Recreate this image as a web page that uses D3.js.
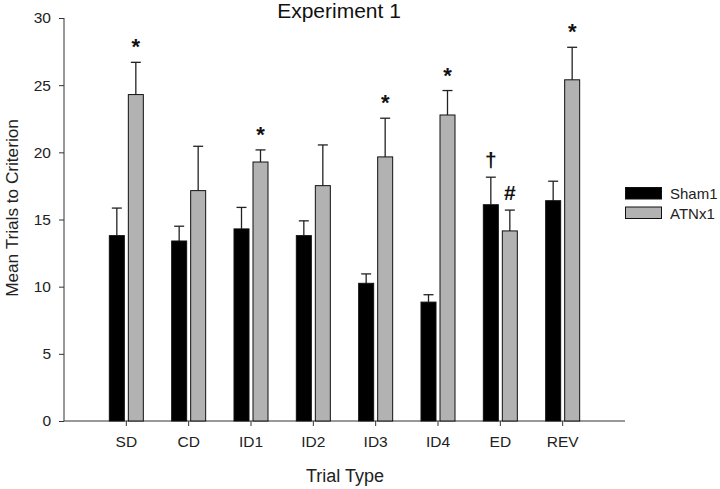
<!DOCTYPE html>
<html><head><meta charset="utf-8">
<script src="https://cdn.jsdelivr.net/npm/d3@7"></script>
<style>body{margin:0;background:#fff;} text{font-family:Arial,"Liberation Sans",sans-serif;}</style>
</head><body>
<svg id="c" width="720" height="489"></svg>
<script>
const categories = ["SD","CD","ID1","ID2","ID3","ID4","ED","REV"];
const seriesNames = ["Sham1","ATNx1"];
const shamValues = [13.8,13.4,14.3,13.8,10.25,8.85,16.1,16.4];
const shamErrors = [2.05,1.1,1.6,1.1,0.7,0.55,2.05,1.45];
const atnxValues = [24.3,17.15,19.28,17.52,19.66,22.78,14.15,25.4];
const atnxErrors = [2.4,3.3,0.9,3.03,2.88,1.82,1.55,2.42];
const shamMarks = ["","","","","","","†",""];
const atnxMarks = ["*","","*","","*","*","#","*"];
const yTicks = [0,5,10,15,20,25,30];
const colors = ["#000000","#b2b2b2"];

const svg = d3.select("#c");
const x = d3.scaleBand().domain(categories).range([64,625]).paddingOuter(0.5).paddingInner(0);
const y = d3.scaleLinear().domain([0,30]).range([421,18]);
const cx = c => x(c) + x.bandwidth()/2;
const barW = 15, gap = 2;
const FF = "Arial,'Liberation Sans',sans-serif";

// axes
const yAxis = d3.axisLeft(y).tickValues(yTicks).tickSize(5).tickPadding(8);
const gy = svg.append("g").attr("transform","translate(64,0)").call(yAxis);
gy.select(".domain").attr("stroke","#333").attr("d","M0,18V421");
gy.selectAll("line").attr("stroke","#333");
gy.selectAll("text").attr("font-size",15.5).attr("fill","#222").style("font-family",FF);

const xAxis = d3.axisBottom(x).tickSize(5).tickPadding(10);
const gx = svg.append("g").attr("transform","translate(0,421)").call(xAxis);
gx.select(".domain").attr("stroke","#333").attr("d","M64,0H625");
gx.selectAll("line").attr("stroke","#333");
gx.selectAll("text").attr("font-size",15.5).attr("fill","#222").style("font-family",FF);

const data = categories.map((c,i)=>({c, s:shamValues[i], se:shamErrors[i], a:atnxValues[i], ae:atnxErrors[i], sm:shamMarks[i], am:atnxMarks[i]}));

function drawSeries(key, errKey, markKey, offset, color){
  const g = svg.append("g");
  g.selectAll("line.err").data(data).enter().append("line")
    .attr("x1",d=>cx(d.c)+offset+barW/2).attr("x2",d=>cx(d.c)+offset+barW/2)
    .attr("y1",d=>y(d[key])).attr("y2",d=>y(d[key]+d[errKey]))
    .attr("stroke","#222").attr("stroke-width",1.3);
  g.selectAll("line.cap").data(data).enter().append("line")
    .attr("x1",d=>cx(d.c)+offset+barW/2-5).attr("x2",d=>cx(d.c)+offset+barW/2+5)
    .attr("y1",d=>y(d[key]+d[errKey])).attr("y2",d=>y(d[key]+d[errKey]))
    .attr("stroke","#222").attr("stroke-width",1.3);
  g.selectAll("rect").data(data).enter().append("rect")
    .attr("x",d=>cx(d.c)+offset).attr("width",barW)
    .attr("y",d=>y(d[key])).attr("height",d=>y(0)-y(d[key]))
    .attr("fill",color).attr("stroke","#111").attr("stroke-width",1);
  g.selectAll("text").data(data.filter(d=>d[markKey])).enter().append("text")
    .attr("x",d=>cx(d.c)+offset+barW/2)
    .attr("y",d=>y(d[key]+d[errKey]) - (d[markKey]==="*"?8:10))
    .attr("text-anchor","middle").attr("font-weight","bold")
    .attr("font-size",d=>d[markKey]==="*"?22:21).attr("fill","#111")
    .text(d=>d[markKey]);
}
drawSeries("s","se","sm",-barW-gap,colors[0]);
drawSeries("a","ae","am",gap,colors[1]);

// title
svg.append("text").attr("x",339).attr("y",18).attr("text-anchor","middle")
  .attr("font-size",21).attr("fill","#111").text("Experiment 1");
// axis titles
svg.append("text").attr("x",345).attr("y",482).attr("text-anchor","middle")
  .attr("font-size",18).attr("fill","#222").text("Trial Type");
svg.append("text").attr("transform","translate(18,208) rotate(-90)").attr("text-anchor","middle")
  .attr("font-size",17.2).attr("fill","#222").text("Mean Trials to Criterion");

// legend
const lg = svg.append("g");
seriesNames.forEach((n,i)=>{
  lg.append("rect").attr("x",625.5).attr("y",187.5+i*19.5).attr("width",36).attr("height",11.5)
    .attr("fill",colors[i]).attr("stroke","#111").attr("stroke-width",1);
  lg.append("text").attr("x",670).attr("y",199+i*19.5).attr("font-size",15).attr("fill","#222").text(n);
});
</script>
</body></html>
